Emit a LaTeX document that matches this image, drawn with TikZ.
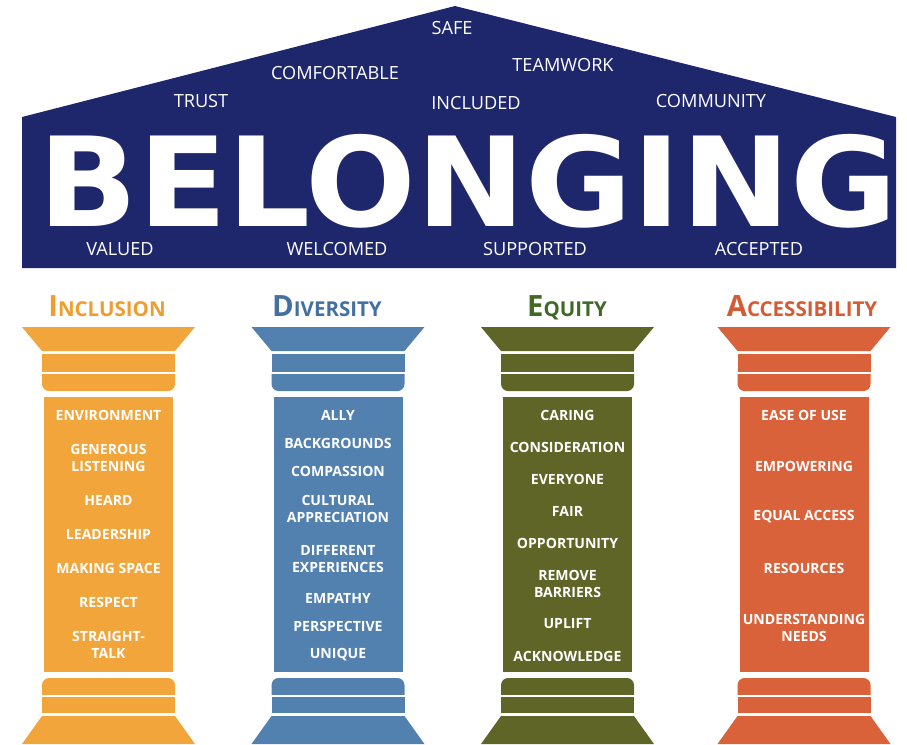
\documentclass[tikz,border=0pt]{standalone}
\usepackage{fontspec}
\setmainfont{Open Sans}
\newfontfamily\bannerfont{DejaVu Sans}[FakeStretch=1.05]
\usetikzlibrary{positioning}

% colours of the roof and the four pillars
\definecolor{roofnavy}{RGB}{31,39,108}
\definecolor{inclcol}{RGB}{242,165,58}
\definecolor{divcol}{RGB}{82,129,176}
\definecolor{eqcol}{RGB}{95,101,38}
\definecolor{acccol}{RGB}{217,98,58}
\definecolor{inclt}{RGB}{238,158,48}
\definecolor{divt}{RGB}{66,112,160}
\definecolor{eqt}{RGB}{66,104,40}
\definecolor{acct}{RGB}{212,92,52}

\tikzset{
  roofword/.style={text=white, inner sep=0pt, font=\fontsize{15.5}{18}\selectfont},
  pillarword/.style={text=white, inner sep=0pt, align=center,
    font=\bfseries\fontsize{12}{14.5}\selectfont},
  pillartitle/.style={inner sep=0pt, anchor=base, font=\bfseries},
}

% title with a large first letter and small capitals after it
\newcommand{\pillarname}[2]{{\fontsize{25}{25}\selectfont #1}{\fontsize{17.5}{17.5}\selectfont #2}}

\begin{document}
\begin{tikzpicture}[x=0.03cm, y=-0.03cm]
    \useasboundingbox (0,0) rectangle (907,744);

    % roof
    \fill[roofnavy] (22,268) -- (22,117) -- (455,6) -- (896,117) -- (896,268) -- cycle;
    \node[text=white, inner sep=0pt, anchor=base, text depth=0pt,
          font=\bannerfont\bfseries\fontsize{106}{106}\selectfont] (banner) at (468,226) {BELONGING};

    \node[roofword] (safe)    at (452,28)  {SAFE};
    \node[roofword] (comf)    at (335,73)  {COMFORTABLE};
    \node[roofword] (team)    at (563,65)  {TEAMWORK};
    \node[roofword] (trust)   at (201,101) {TRUST};
    \node[roofword] (incd)    at (476,103) {INCLUDED};
    \node[roofword] (comm)    at (711,101) {COMMUNITY};
    \node[roofword] (valued)  at (120,249) {VALUED};
    \node[roofword] (welc)    at (337,249) {WELCOMED};
    \node[roofword] (supp)    at (535,249) {SUPPORTED};
    \node[roofword] (accp)    at (759,249) {ACCEPTED};

    % pillars: capital, shaft and base
    \foreach \cx/\col in {108.5/inclcol, 338/divcol, 567.5/eqcol, 804/acccol} {
        \begin{scope}[shift={(\cx,0)}]
            \fill[\col] (-86.5,327) -- (86.5,327) -- (66.5,351) -- (-66.5,351) -- cycle;
            \fill[\col] (-66.5,354) rectangle (66.5,372);
            \begin{scope}
                \clip (-70,374) rectangle (70,395);
                \fill[\col, rounded corners=6] (-66.5,360) rectangle (66.5,391);
            \end{scope}
            \fill[\col] (-64.5,397) rectangle (64.5,672);
            \begin{scope}
                \clip (-70,676) rectangle (70,694);
                \fill[\col, rounded corners=6] (-66.5,678) rectangle (66.5,710);
            \end{scope}
            \fill[\col] (-66.5,697) rectangle (66.5,713);
            \fill[\col] (-66.5,716) -- (66.5,716) -- (86.5,744) -- (-86.5,744) -- cycle;
        \end{scope}
    }

    % pillar titles
    \node[pillartitle, text=inclt] (incl) at (107,316) {\pillarname{I}{NCLUSION}};
    \node[pillartitle, text=divt]  (div)  at (327,316) {\pillarname{D}{IVERSITY}};
    \node[pillartitle, text=eqt]   (eq)   at (567,316) {\pillarname{E}{QUITY}};
    \node[pillartitle, text=acct]  (acc)  at (802,316) {\pillarname{A}{CCESSIBILITY}};

    % words on the shafts
    \foreach \txt/\yy [count=\i] in {ENVIRONMENT/415, {GENEROUS\\LISTENING}/457.5,
        HEARD/500, LEADERSHIP/534, MAKING SPACE/568, RESPECT/602, {STRAIGHT-\\TALK}/644.5}
        \node[pillarword] (incl-\i) at (108.5,\yy) {\txt};

    \foreach \txt/\yy [count=\i] in {ALLY/415, BACKGROUNDS/443, COMPASSION/471,
        {CULTURAL\\APPRECIATION}/508.5, {DIFFERENT\\EXPERIENCES}/559.5, EMPATHY/598,
        PERSPECTIVE/626, UNIQUE/655}
        \node[pillarword] (div-\i) at (338,\yy) {\txt};

    \foreach \txt/\yy [count=\i] in {CARING/415, CONSIDERATION/447, EVERYONE/479,
        FAIR/511, OPPORTUNITY/543, {REMOVE\\BARRIERS}/583.5, UPLIFT/624, ACKNOWLEDGE/656}
        \node[pillarword] (eq-\i) at (567.5,\yy) {\txt};

    \foreach \txt/\yy [count=\i] in {EASE OF USE/415, EMPOWERING/466, EQUAL ACCESS/517,
        RESOURCES/568, {UNDERSTANDING\\NEEDS}/627.5}
        \node[pillarword] (acc-\i) at (804,\yy) {\txt};
\end{tikzpicture}
\end{document}
